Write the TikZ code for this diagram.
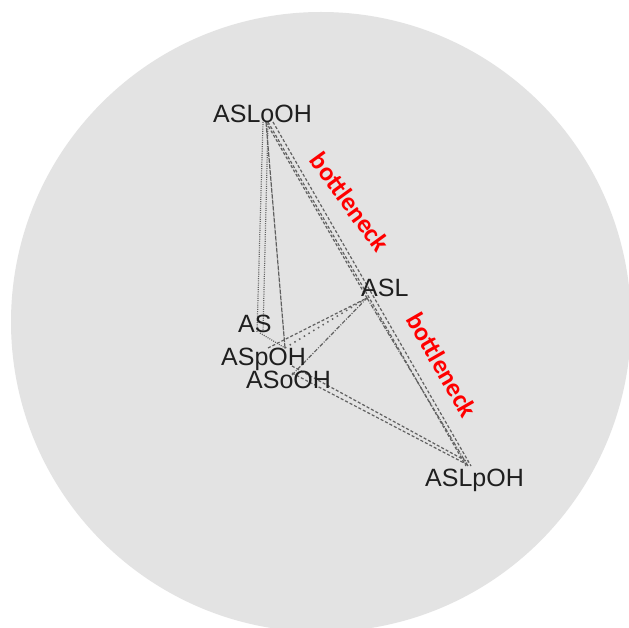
\documentclass[tikz,border=0pt]{standalone}
\usepackage{fontspec}
\setmainfont{Liberation Sans}
\newfontfamily\notefont{Carlito}
\begin{document}
\begin{tikzpicture}[x=1pt,y=-1pt,
  vlabel/.style={inner sep=0pt,anchor=base west,font=\fontsize{25}{25}\selectfont,text=black!88},
  note/.style={inner sep=0pt,text=red,font=\notefont\bfseries\fontsize{26}{26}\selectfont},
  link/.style={draw=black!62,line width=1.2pt},
  ldot/.style={link,dash pattern=on 1pt off 1.2pt},
  ldash/.style={link,dash pattern=on 3pt off 2pt},
  lfine/.style={link,dash pattern=on 5pt off 1pt},
  ldashdot/.style={link,dash pattern=on 4pt off 1.5pt on 1pt off 1.5pt},
  lsparse/.style={link,line width=1.5pt,dash pattern=on 1.5pt off 4pt}]
  % canvas and disc
  \useasboundingbox (0,0) rectangle (629,628);
  \fill[white] (0,0) rectangle (629,628);
  \fill[black!11] (321,322) circle (310);

  % vertex positions
  \coordinate (vASLoOH) at (266,122);
  \coordinate (vASL)    at (367,298);
  \coordinate (vAS)     at (260,333);
  \coordinate (vASpOH)  at (285,348);
  \coordinate (vASoOH)  at (292,375);
  \coordinate (vASLpOH) at (468,466);

  % edges
  \draw[ldot] ([xshift=-3pt]vASLoOH) -- ([xshift=-3pt]vAS);
  \draw[ldot] ([xshift=2pt]vASLoOH) -- ([xshift=3pt]vAS);
  \draw[lfine] (vASLoOH) -- (vASpOH);
  \draw[ldash] (vASLoOH) -- (vASL);
  \draw[ldash] ([xshift=2pt]vASLoOH) -- ([xshift=-2pt]vASLpOH);
  \draw[ldash] ([xshift=7pt]vASLoOH) -- ([xshift=3pt]vASLpOH);
  \draw[ldash] ([yshift=-15pt,xshift=8pt]vAS) -- (vASL);
  \draw[ldot] (vAS) -- (vASpOH);
  \draw[lsparse] (vASpOH) -- (vASL);
  \draw[ldashdot] (vASoOH) -- (vASL);
  \draw[ldashdot] (vASL) -- (vASLpOH);
  \draw[ldash] ([yshift=2pt]vASoOH) -- ([yshift=1pt]vASLpOH);
  \draw[ldash] ([yshift=9pt]vASoOH) -- ([yshift=4pt]vASLpOH);

  % vertex labels
  \node[vlabel] (ASLoOH) at (213,123) {ASLoOH};
  \node[vlabel] (ASL)    at (361,297) {ASL};
  \node[vlabel] (AS)     at (238,332) {AS};
  \node[vlabel] (ASpOH)  at (221,365) {ASpOH};
  \node[vlabel] (ASoOH)  at (246,388) {ASoOH};
  \node[vlabel] (ASLpOH) at (425,486) {ASLpOH};

  % annotations
  \node[note,rotate=-54] (neck1) at (350,202) {bottleneck};
  \node[note,rotate=-60] (neck2) at (442,365) {bottleneck};
\end{tikzpicture}
\end{document}
